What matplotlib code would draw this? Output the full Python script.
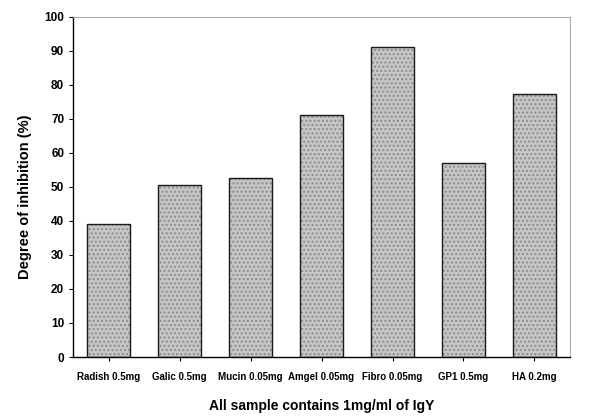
import matplotlib.pyplot as plt

categories = ["Radish 0.5mg", "Galic 0.5mg", "Mucin 0.05mg", "Amgel 0.05mg",
              "Fibro 0.05mg", "GP1 0.5mg", "HA 0.2mg"]
inhibition = [39, 50.7, 52.5, 71, 91.2, 57, 77.3]
y_ticks = [0, 10, 20, 30, 40, 50, 60, 70, 80, 90, 100]

plt.rcParams["font.family"] = ["Liberation Sans", "DejaVu Sans"]

fig = plt.figure(figsize=(5.9, 4.2), dpi=100)
ax = fig.add_axes([0.124, 0.15, 0.842, 0.81])

x = list(range(len(categories)))
# stippled fill first (hatch takes the edge colour), then a crisp black outline
ax.bar(x, inhibition, width=0.6, color="#c6c6c6", edgecolor="#8c8c8c",
       linewidth=0, hatch="....", zorder=2)
ax.bar(x, inhibition, width=0.6, fill=False, edgecolor="#1a1a1a",
       linewidth=1.0, zorder=3)

ax.set_xlim(-0.5, len(categories) - 0.5)
ax.set_ylim(0, 100)
ax.set_yticks(y_ticks)
ax.set_yticklabels([str(v) for v in y_ticks], fontsize=8.5, fontweight="bold")
ax.set_xticks(x)
ax.set_xticklabels(categories, fontsize=7, fontweight="bold")
ax.tick_params(axis="both", direction="out", length=3, width=0.8)
ax.tick_params(axis="x", pad=8)

ax.spines["left"].set_color("black")
ax.spines["bottom"].set_color("black")
ax.spines["left"].set_linewidth(1.0)
ax.spines["bottom"].set_linewidth(1.0)
ax.spines["top"].set_color("#aaaaaa")
ax.spines["right"].set_color("#aaaaaa")
ax.spines["top"].set_linewidth(0.8)
ax.spines["right"].set_linewidth(0.8)

ax.set_ylabel("Degree of inhibition (%)", fontsize=10.5, fontweight="bold")
ax.yaxis.set_label_coords(-0.083, 0.47)
ax.set_xlabel("All sample contains 1mg/ml of IgY", fontsize=10, fontweight="bold", labelpad=12)

fig.savefig("out.png", dpi=100)
